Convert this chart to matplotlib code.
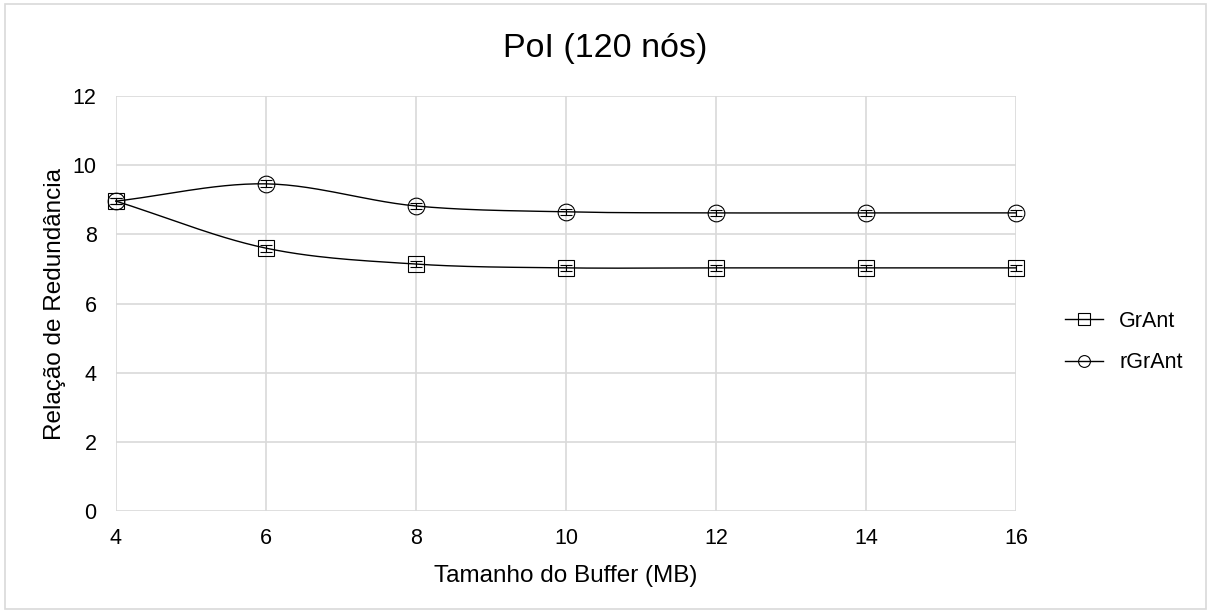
import numpy as np
import matplotlib.pyplot as plt
from matplotlib.patches import Rectangle

plt.rcParams['font.family'] = ['Liberation Sans', 'DejaVu Sans']

buffer_mb = [4, 6, 8, 10, 12, 14, 16]
grant = [8.96, 7.60, 7.14, 7.03, 7.03, 7.03, 7.03]
rgrant = [8.96, 9.46, 8.82, 8.65, 8.62, 8.62, 8.62]
grant_err = [0.08, 0.1, 0.08, 0.08, 0.08, 0.08, 0.08]
rgrant_err = [0.08, 0.1, 0.08, 0.08, 0.08, 0.08, 0.08]


def smooth(x, y, n=30):
    # catmull-rom style curve like Excel's "smoothed line"
    x = np.asarray(x, float)
    y = np.asarray(y, float)
    px = np.concatenate([[2 * x[0] - x[1]], x, [2 * x[-1] - x[-2]]])
    py = np.concatenate([[2 * y[0] - y[1]], y, [2 * y[-1] - y[-2]]])
    xs, ys = [], []
    t = np.linspace(0, 1, n)
    h00 = 2 * t**3 - 3 * t**2 + 1
    h10 = t**3 - 2 * t**2 + t
    h01 = -2 * t**3 + 3 * t**2
    h11 = t**3 - t**2
    for i in range(1, len(px) - 2):
        for arr, out in ((px, xs), (py, ys)):
            p0, p1, p2, p3 = arr[i - 1], arr[i], arr[i + 1], arr[i + 2]
            m1 = (p2 - p0) / 2
            m2 = (p3 - p1) / 2
            out.extend(h00 * p1 + h10 * m1 + h01 * p2 + h11 * m2)
    return xs, ys


fig = plt.figure(figsize=(12.11, 6.14), dpi=100)
ax = fig.add_axes([116 / 1211, 1 - 511 / 614, 900 / 1211, 415 / 614])

for y, err, mk, lab in ((grant, grant_err, 's', 'GrAnt'), (rgrant, rgrant_err, 'o', 'rGrAnt')):
    sx, sy = smooth(buffer_mb, y)
    ax.plot(sx, sy, color='black', lw=1, zorder=3, clip_on=False)
    ax.errorbar(buffer_mb, y, yerr=err, fmt='none', ecolor='black', elinewidth=0.8,
                capsize=4, capthick=0.8, zorder=4, clip_on=False)
    ax.plot(buffer_mb, y, linestyle='none', marker=mk, markersize=11 if mk == 's' else 12,
            markerfacecolor='none', markeredgecolor='black', markeredgewidth=0.8, zorder=5,
            clip_on=False)
    ax.plot([], [], color='black', lw=1, marker=mk, markersize=8.5, markerfacecolor='none',
            markeredgewidth=0.8, label=lab)

ax.set_xlim(4, 16)
ax.set_ylim(0, 12)
ax.set_xticks(buffer_mb)
ax.set_yticks(range(0, 13, 2))
ax.grid(True, color='#d9d9d9', lw=1.2)
ax.set_axisbelow(True)
for s in ax.spines.values():
    s.set_visible(False)
ax.tick_params(length=0, labelsize=15.5)
ax.tick_params(axis='x', pad=12)
ax.tick_params(axis='y', pad=14)
ax.set_xlabel('Tamanho do Buffer (MB)', fontsize=17.5, labelpad=12)
ax.set_ylabel('Relação de Redundância', fontsize=17.5, labelpad=5)
fig.text(0.5, 1 - 48 / 614, 'PoI (120 nós)', fontsize=24.5, ha='center', va='center')

ax.legend(loc='center left', bbox_to_anchor=((1065 - 116) / 900, (511 - 342) / 415),
          frameon=False, fontsize=15.5, borderaxespad=0, borderpad=0,
          handlelength=1.77, labelspacing=0.95, handletextpad=0.75)

fig.patches.append(Rectangle((0.004, 0.008), 0.992, 0.985, transform=fig.transFigure,
                             fill=False, edgecolor='#d9d9d9', lw=1.2))

fig.savefig('out.png', dpi=100)
